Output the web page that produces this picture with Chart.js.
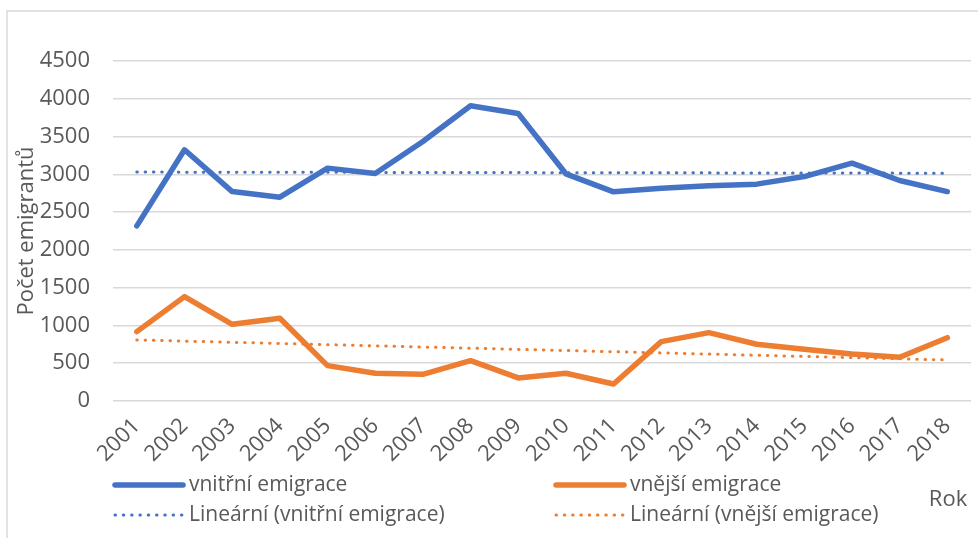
<!DOCTYPE html>
<html>
<head>
<meta charset="utf-8">
<script src="https://cdn.jsdelivr.net/npm/chart.js@4/dist/chart.umd.min.js"></script>
<style>
  html, body { margin: 0; padding: 0; background: #fff; }
  #wrap { position: relative; width: 978px; height: 538px; }
</style>
</head>
<body>
<div id="wrap"><canvas id="chart"></canvas></div>
<script>
// Emigrace 2001–2018: vnitřní vs. vnější, s lineárními trendy.
const years = ["2001", "2002", "2003", "2004", "2005", "2006", "2007", "2008", "2009",
  "2010", "2011", "2012", "2013", "2014", "2015", "2016", "2017", "2018"];
const vnitrni = [2318, 3325, 2772, 2698, 3082, 3011, 3435, 3907, 3805,
  3007, 2768, 2817, 2848, 2870, 2971, 3148, 2918, 2772];
const vnejsi = [918, 1381, 1015, 1095, 468, 367, 353, 534, 305,
  367, 225, 786, 905, 751, 684, 622, 578, 838];
const trendVnitrni = [3030, null, null, null, null, null, null, null, null,
  null, null, null, null, null, null, null, null, 3015];
const trendVnejsi = [808, null, null, null, null, null, null, null, null,
  null, null, null, null, null, null, null, null, 543];
const yTicks = [0, 500, 1000, 1500, 2000, 2500, 3000, 3500, 4000, 4500];

const BLUE = "#4472C4";
const ORANGE = "#ED7D31";
const TEXT = "#595959";
const FONT = "'Open Sans', 'Liberation Sans', sans-serif";

// Two-column legend, "Rok" label and the outer frame, drawn under the chart.
const legendPlugin = {
  id: "excelLegend",
  afterDraw(chart) {
    const ctx = chart.ctx;
    const cols = [113, 554];
    const rows = [485, 515];
    ctx.save();
    chart.data.datasets.forEach((ds, i) => {
      const x = cols[i % 2];
      const y = rows[Math.floor(i / 2)];
      ctx.strokeStyle = ds.borderColor;
      ctx.lineWidth = ds.borderWidth;
      ctx.lineCap = "round";
      ctx.setLineDash(ds.borderDash || []);
      ctx.beginPath();
      ctx.moveTo(x + 2, y);
      ctx.lineTo(x + 70, y);
      ctx.stroke();
      ctx.setLineDash([]);
      ctx.fillStyle = TEXT;
      ctx.font = "21px " + FONT;
      ctx.textBaseline = "middle";
      ctx.textAlign = "left";
      ctx.fillText(ds.label, x + 76, y);
    });
    ctx.font = "22px " + FONT;
    ctx.textAlign = "center";
    ctx.fillText("Rok", 948, 500);

    ctx.strokeStyle = "#d9d9d9";
    ctx.lineWidth = 1.5;
    ctx.beginPath();
    ctx.moveTo(7, 538);
    ctx.lineTo(7, 11);
    ctx.lineTo(978, 11);
    ctx.stroke();
    ctx.restore();
  },
};

const lineStyle = (color) => ({
  borderColor: color,
  backgroundColor: color,
  borderWidth: 5.5,
  borderCapStyle: "round",
  borderJoinStyle: "round",
  pointRadius: 0,
  tension: 0,
  fill: false,
});
const trendStyle = (color) => ({
  borderColor: color,
  backgroundColor: color,
  borderWidth: 3,
  borderDash: [0.5, 7.8],
  borderCapStyle: "round",
  pointRadius: 0,
  spanGaps: true,
  fill: false,
});

new Chart(document.getElementById("chart"), {
  type: "line",
  data: {
    labels: years,
    datasets: [
      { label: "vnitřní emigrace", data: vnitrni, ...lineStyle(BLUE) },
      { label: "vnější emigrace", data: vnejsi, ...lineStyle(ORANGE) },
      { label: "Lineární (vnitřní emigrace)", data: trendVnitrni, ...trendStyle(BLUE) },
      { label: "Lineární (vnější emigrace)", data: trendVnejsi, ...trendStyle(ORANGE) },
    ],
  },
  options: {
    responsive: true,
    maintainAspectRatio: false,
    animation: false,
    layout: { padding: { top: 61, left: 0, right: 1, bottom: 67 } },
    plugins: {
      legend: { display: false },
      tooltip: { enabled: false },
    },
    scales: {
      x: {
        offset: true,
        grid: { display: false, drawTicks: false },
        border: { display: false },
        ticks: {
          color: TEXT,
          font: { family: FONT, size: 22 },
          minRotation: 45,
          maxRotation: 45,
          padding: 12,
          autoSkip: false,
        },
        afterFit: (scale) => { scale.height = 70; },
      },
      y: {
        min: 0,
        max: 4500,
        afterBuildTicks: (scale) => { scale.ticks = yTicks.map((v) => ({ value: v })); },
        grid: { color: "#d9d9d9", lineWidth: 1.5, drawTicks: false },
        border: { display: false },
        ticks: {
          color: TEXT,
          font: { family: FONT, size: 22 },
          padding: 23,
          callback: (v) => String(v),
        },
        title: {
          display: true,
          text: "Počet emigrantů",
          color: TEXT,
          font: { family: FONT, size: 22 },
          padding: { top: 14, bottom: 0 },
        },
        afterFit: (scale) => { scale.width = 113; },
      },
    },
  },
  plugins: [legendPlugin],
});
</script>
</body>
</html>
